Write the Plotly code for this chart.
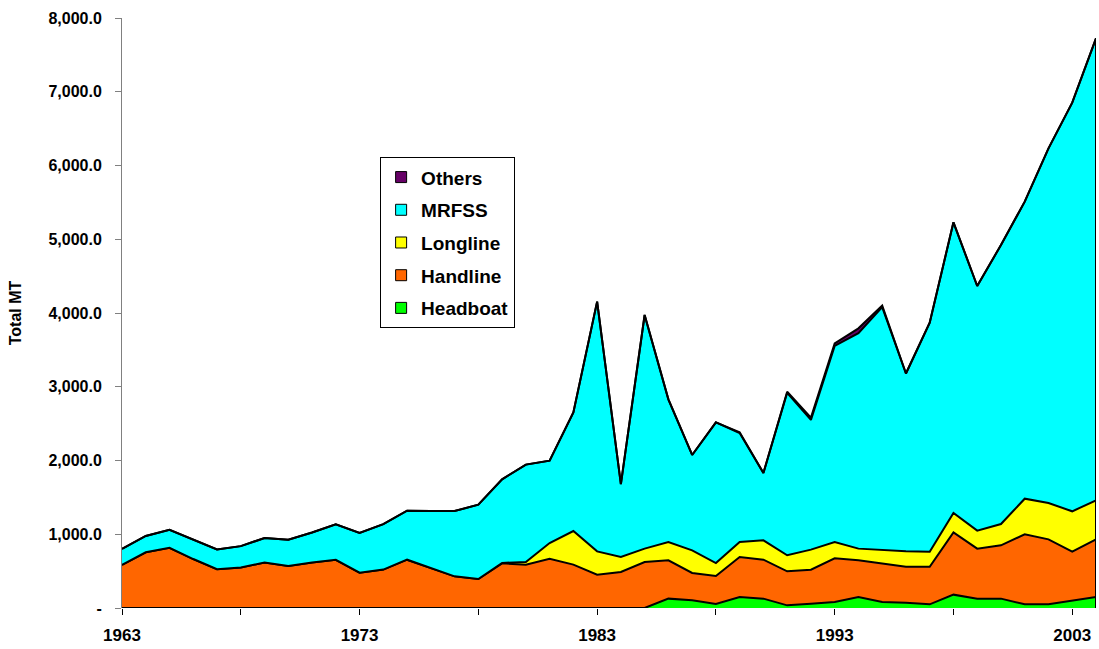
import plotly.graph_objects as go

# Annual landings by fishery component (metric tons), 1963-2004
years = list(range(1963, 2005))

headboat = [0, 0, 0, 0, 0, 0, 0, 0, 0, 0,
            0, 0, 0, 0, 0, 0, 0, 0, 0, 0,
            0, 0, 0, 127, 104, 55, 149, 127, 36, 59,
            81, 149, 81, 72, 50, 181, 127, 127, 50, 50,
            99, 149]

handline = [585, 756, 816, 664, 525, 548, 618, 571, 618, 654,
            479, 521, 655, 542, 429, 393, 606, 588, 669, 588,
            452, 488, 624, 519, 371, 379, 543, 528, 461, 461,
            592, 497, 520, 488, 510, 845, 678, 723, 949, 881,
            665, 782]

longline = [0, 0, 0, 0, 0, 0, 0, 0, 0, 0,
            0, 0, 0, 0, 0, 0, 5, 36, 212, 456,
            316, 204, 181, 249, 307, 176, 203, 263, 218, 271,
            222, 159, 181, 208, 204, 262, 244, 289, 483, 493,
            547, 529]

mrfss = [217, 221, 244, 258, 268, 291, 331, 355, 405, 480,
         539, 617, 665, 773, 886, 1008, 1134, 1320, 1117, 1609,
         3386, 988, 3168, 1934, 1293, 1907, 1477, 912, 2203, 1760,
         2659, 2922, 3298, 2412, 3105, 3942, 3317, 3783, 4028, 4809,
         5541, 6264]

others = [0, 0, 0, 0, 0, 0, 0, 0, 0, 0,
          0, 0, 0, 0, 0, 0, 0, 0, 0, 0,
          0, 0, 0, 0, 0, 0, 10, 0, 15, 30,
          35, 65, 20, 0, 0, 0, 0, 0, 0, 0,
          0, 0]

y_ticks = [0, 1000, 2000, 3000, 4000, 5000, 6000, 7000, 8000]
x_ticks = [1963, 1968, 1973, 1978, 1983, 1988, 1993, 1998, 2003]
x_labels = ["1963", "", "1973", "", "1983", "", "1993", "", "2003"]

series = [
    ("Headboat", headboat, "#00FF00"),
    ("Handline", handline, "#FF6600"),
    ("Longline", longline, "#FFFF00"),
    ("MRFSS", mrfss, "#00FFFF"),
    ("Others", others, "#660066"),
]

FONT = "Liberation Sans, Arial, sans-serif"

fig = go.Figure()

# stacked areas, bottom to top
for name, vals, color in series:
    fig.add_trace(go.Scatter(
        x=years, y=vals, name=name, stackgroup="catch",
        mode="lines", line=dict(color="black", width=2),
        fillcolor=color, showlegend=False, hoverinfo="x+y+name",
    ))

# closing edge of the stack at the last year
total_last = sum(vals[-1] for _, vals, _ in series)
fig.add_trace(go.Scatter(
    x=[years[-1], years[-1]], y=[0, total_last], mode="lines",
    line=dict(color="black", width=2), showlegend=False, hoverinfo="skip",
))

# legend swatches, top entry first
for rank, (name, vals, color) in enumerate(reversed(series)):
    fig.add_trace(go.Scatter(
        x=[None], y=[None], mode="markers", name=name,
        legendgroup=name, legendrank=rank + 1,
        marker=dict(symbol="square", size=11, color=color,
                    line=dict(color="black", width=1)),
    ))

y_text = ["-" if v == 0 else f"{v:,.1f}" for v in y_ticks]

fig.update_layout(
    width=1099, height=649,
    margin=dict(l=122, r=3, t=18, b=41),
    paper_bgcolor="white", plot_bgcolor="white",
    font=dict(family=FONT, color="black", size=16),
    showlegend=True,
    legend=dict(
        x=0.265, y=0.764, xanchor="left", yanchor="top",
        bgcolor="white", bordercolor="black", borderwidth=1,
        font=dict(family=FONT, size=19, color="black", weight="bold"),
        tracegroupgap=5, traceorder="grouped",
        itemwidth=30,
    ),
    xaxis=dict(
        range=[years[0], years[-1]], tickmode="array",
        tickvals=x_ticks, ticktext=x_labels,
        ticks="outside", ticklen=6, tickcolor="black",
        showgrid=False, zeroline=False,
        showline=False,
        tickfont=dict(family=FONT, size=17, weight="bold"),
        ticklabelstandoff=6,
    ),
    yaxis=dict(
        title=dict(text="Total MT", font=dict(family=FONT, size=16, weight="bold"), standoff=22),
        range=[0, 8000], tickmode="array",
        tickvals=y_ticks, ticktext=y_text,
        ticks="outside", ticklen=6, tickcolor="#808080",
        showline=True, linecolor="#808080", linewidth=1,
        showgrid=False, zeroline=False,
        tickfont=dict(family=FONT, size=16, weight="bold"),
        ticklabelstandoff=10,
    ),
)

fig.write_html("out.html")
